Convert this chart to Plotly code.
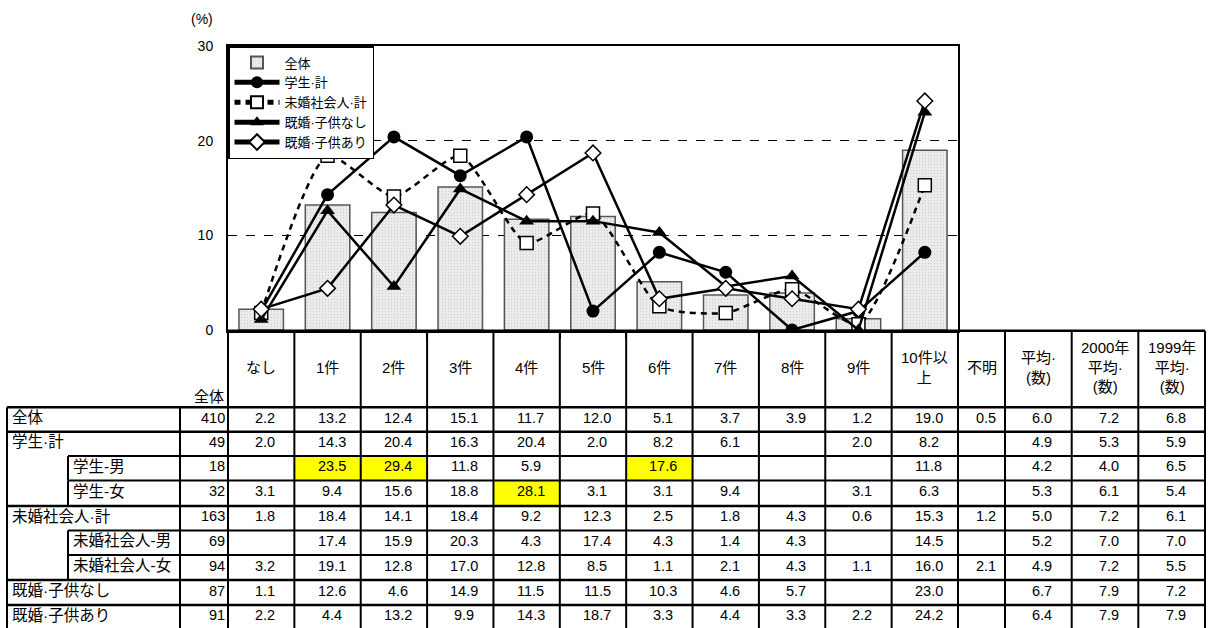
import plotly.graph_objects as go

# ---------------- data ----------------
categories = ["なし", "1件", "2件", "3件", "4件", "5件", "6件", "7件", "8件", "9件", "10件以上"]
header_labels = ["なし", "1件", "2件", "3件", "4件", "5件", "6件", "7件", "8件", "9件",
                 "10件以<br>上", "不明", "平均·<br>(数)", "2000年<br>平均·<br>(数)", "1999年<br>平均·<br>(数)"]
row_labels = ["全体", "学生·計", "学生-男", "学生-女", "未婚社会人·計",
              "未婚社会人-男", "未婚社会人-女", "既婚·子供なし", "既婚·子供あり"]
row_is_sub = [False, False, True, True, False, True, True, False, False]
row_counts = [410, 49, 18, 32, 163, 69, 94, 87, 91]

v_zentai = [2.2, 13.2, 12.4, 15.1, 11.7, 12.0, 5.1, 3.7, 3.9, 1.2, 19.0, 0.5, 6.0, 7.2, 6.8]
v_gakusei = [2.0, 14.3, 20.4, 16.3, 20.4, 2.0, 8.2, 6.1, None, 2.0, 8.2, None, 4.9, 5.3, 5.9]
v_gakusei_m = [None, 23.5, 29.4, 11.8, 5.9, None, 17.6, None, None, None, 11.8, None, 4.2, 4.0, 6.5]
v_gakusei_f = [3.1, 9.4, 15.6, 18.8, 28.1, 3.1, 3.1, 9.4, None, 3.1, 6.3, None, 5.3, 6.1, 5.4]
v_mikon = [1.8, 18.4, 14.1, 18.4, 9.2, 12.3, 2.5, 1.8, 4.3, 0.6, 15.3, 1.2, 5.0, 7.2, 6.1]
v_mikon_m = [None, 17.4, 15.9, 20.3, 4.3, 17.4, 4.3, 1.4, 4.3, None, 14.5, None, 5.2, 7.0, 7.0]
v_mikon_f = [3.2, 19.1, 12.8, 17.0, 12.8, 8.5, 1.1, 2.1, 4.3, 1.1, 16.0, 2.1, 4.9, 7.2, 5.5]
v_kikon_nashi = [1.1, 12.6, 4.6, 14.9, 11.5, 11.5, 10.3, 4.6, 5.7, None, 23.0, None, 6.7, 7.9, 7.2]
v_kikon_ari = [2.2, 4.4, 13.2, 9.9, 14.3, 18.7, 3.3, 4.4, 3.3, 2.2, 24.2, None, 6.4, 7.9, 7.9]

table_rows = [v_zentai, v_gakusei, v_gakusei_m, v_gakusei_f, v_mikon,
              v_mikon_m, v_mikon_f, v_kikon_nashi, v_kikon_ari]
highlight_cells = [(2, 1), (2, 2), (2, 6), (3, 4)]

n_cat = len(categories)


def chart_vals(v):
    return [0 if x is None else x for x in v[:n_cat]]


FONT = "Liberation Sans, Arial, Noto Sans CJK JP, sans-serif"

# ---------------- geometry ----------------
W, H = 1209, 628
PL, PR, PT, PB = 228, 958, 46, 330


def fx(px):
    return (px - PL) / (PR - PL)


def fy(py):
    return (PB - py) / (PB - PT)


cat_w = (PR - PL) / n_cat
col_edges = [PL + i * cat_w for i in range(n_cat + 1)] + [1005, 1071.7, 1138.3, 1205]
row_edges = [407.3, 431.7, 456, 480.5, 506, 530.5, 555, 580, 605, 629.5]
TBL_L, LBL_R, SUB_L = 7, 180, 68
HDR_TOP = 330.7

fig = go.Figure()

fig.add_trace(go.Bar(
    x=categories, y=v_zentai[:n_cat], name="全体", width=0.67,
    marker=dict(color="#e9e9e9", line=dict(color="#555", width=1.5),
                pattern=dict(shape=".", fgcolor="#b0b0b0", bgcolor="#ececec", size=3, solidity=0.15)),
))

series = [
    ("学生·計", v_gakusei, dict(symbol="circle", size=13, color="black"), "solid", "linear"),
    ("未婚社会人·計", v_mikon, dict(symbol="square", size=13, color="white",
                                    line=dict(color="black", width=1.5)), "6px,5px", "spline"),
    ("既婚·子供なし", v_kikon_nashi, dict(symbol="triangle-up", size=13, color="black"), "solid", "linear"),
    ("既婚·子供あり", v_kikon_ari, dict(symbol="diamond", size=12, color="white",
                                      line=dict(color="black", width=1.5)), "solid", "linear"),
]
for name, vals, mk, dash, shape in series:
    fig.add_trace(go.Scatter(
        x=categories, y=chart_vals(vals), name=name, mode="lines+markers",
        line=dict(color="black", width=2.5, dash=dash, shape=shape, smoothing=0.6),
        marker=mk,
    ))

shapes = []
annotations = []


def hline(py, x0, x1, w=2):
    shapes.append(dict(type="line", xref="paper", yref="paper", x0=fx(x0), x1=fx(x1),
                       y0=fy(py), y1=fy(py), line=dict(color="black", width=w)))


def vline(px, y0, y1, w=2):
    shapes.append(dict(type="line", xref="paper", yref="paper", x0=fx(px), x1=fx(px),
                       y0=fy(y0), y1=fy(y1), line=dict(color="black", width=w)))


def text(t, px, py, xanchor="center", yanchor="middle", size=14.5):
    annotations.append(dict(text=t, x=fx(px), y=fy(py), xref="paper", yref="paper",
                            xanchor=xanchor, yanchor=yanchor, showarrow=False,
                            font=dict(family=FONT, size=size, color="black")))


# highlight cells
for r, c in highlight_cells:
    shapes.append(dict(type="rect", xref="paper", yref="paper", layer="below",
                       x0=fx(col_edges[c]), x1=fx(col_edges[c + 1]),
                       y0=fy(row_edges[r]), y1=fy(row_edges[r + 1]),
                       fillcolor="#ffff00", line=dict(width=0)))

# header borders
hline(HDR_TOP, PL, col_edges[-1], 2.5)
for e in col_edges:
    vline(e, HDR_TOP, row_edges[0], 2)

# body horizontal lines
for i, py in enumerate(row_edges[:-1]):
    if i > 0 and row_is_sub[i]:
        hline(py, SUB_L, col_edges[-1], 1.8)
    else:
        hline(py, TBL_L, col_edges[-1], 2.5)

# body vertical lines
body_top, body_bot = row_edges[0], row_edges[-1]
vline(TBL_L, body_top, body_bot, 2)
vline(LBL_R, body_top, body_bot, 2)
for e in col_edges:
    vline(e, body_top, body_bot, 2)
for i, sub in enumerate(row_is_sub):
    if sub:
        vline(SUB_L, row_edges[i], row_edges[i + 1], 2)

# header texts
text("全体", PL - 2, row_edges[0], xanchor="right", yanchor="bottom", size=15)
for c, lab in enumerate(header_labels):
    cx = (col_edges[c] + col_edges[c + 1]) / 2
    text(lab, cx, (HDR_TOP + row_edges[0]) / 2 - 2, size=15)

# body texts
for r, (lab, cnt, vals) in enumerate(zip(row_labels, row_counts, table_rows)):
    cy = (row_edges[r] + row_edges[r + 1]) / 2 - 2
    text(lab, (SUB_L + 3) if row_is_sub[r] else (TBL_L + 3), cy, xanchor="left", size=15.5)
    text(str(cnt), PL - 1, cy, xanchor="right")
    for c, v in enumerate(vals):
        if v is None:
            continue
        cx = (col_edges[c] + col_edges[c + 1]) / 2 + 4
        text(f"{v:.1f}", cx, cy)

# (%) label
text("(%)", 202, 19, size=14)

fig.update_layout(
    width=W, height=H, autosize=False,
    margin=dict(l=PL, r=W - PR, t=PT, b=H - PB, pad=0),
    paper_bgcolor="white", plot_bgcolor="white",
    font=dict(family=FONT, size=14, color="black"),
    showlegend=True,
    legend=dict(x=0, y=1, xanchor="left", yanchor="top", bgcolor="white",
                bordercolor="black", borderwidth=1.5, font=dict(size=13),
                itemwidth=45,
                tracegroupgap=0, itemsizing="constant"),
    bargap=0.33,
    shapes=shapes, annotations=annotations,
)
fig.update_xaxes(type="category", range=[-0.5, n_cat - 0.5], showticklabels=False,
                 ticks="outside", tickson="boundaries", ticklen=6, tickwidth=1.5, tickcolor="black",
                 showline=True, linewidth=2.5, linecolor="black", mirror=True, showgrid=False)
fig.update_yaxes(range=[0, 30], dtick=10, ticks="", showline=True, linewidth=2, linecolor="black",
                 mirror=True, showgrid=True, gridcolor="black", gridwidth=1, griddash="dash",
                 zeroline=False, tickfont=dict(size=14), ticklabelstandoff=10)

fig.write_html("out.html", config={"staticPlot": True, "displayModeBar": False},
               post_script="document.body.style.margin='0';document.body.style.overflow='hidden';")
